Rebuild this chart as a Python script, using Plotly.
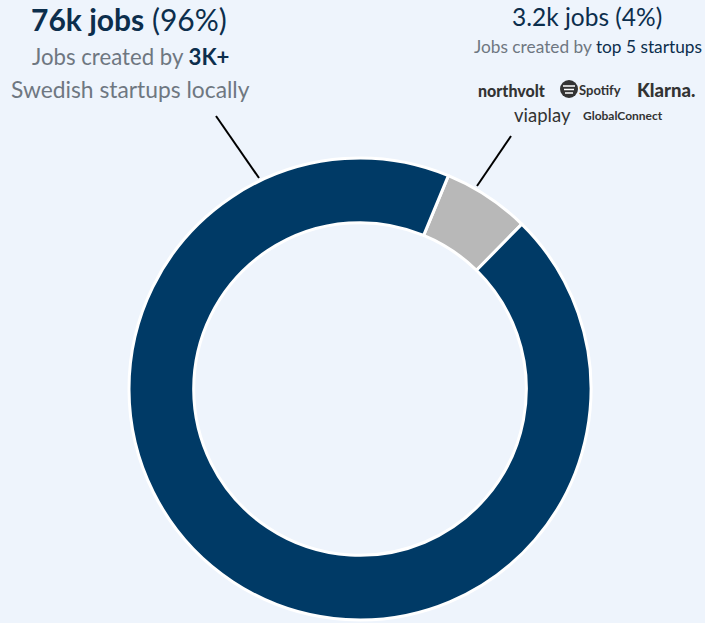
import plotly.graph_objects as go

# Data
labels = ["Top 5 startups", "3K+ Swedish startups"]
values = [6.1, 93.9]
colors = ["#B8B8B8", "#003A66"]

W, H = 705, 623
BG = "#EEF4FC"
NAVY = "#0C2E4C"
GREY = "#6E7781"
LOGO = "#333333"
FONT = "Source Sans Pro, Lato, sans-serif"

cx, cy, r = 360, 389, 231

def px(x):
    return x / W

def py(y):
    return 1 - y / H

fig = go.Figure(go.Pie(
    labels=labels, values=values, sort=False, direction="clockwise", rotation=22.5,
    hole=0.72, marker=dict(colors=colors, line=dict(color="white", width=3)),
    textinfo="none", hoverinfo="label+percent", showlegend=False,
    domain=dict(x=[px(cx - r), px(cx + r)], y=[py(cy + r), py(cy - r)]),
))

ann = []
def add(text, x, y, size, color, weight=None, family=FONT):
    f = dict(size=size, color=color, family=family)
    if weight:
        f["weight"] = weight
    ann.append(dict(text=text, x=px(x), y=py(y), xref="paper", yref="paper",
                    showarrow=False, xanchor="center", yanchor="middle", font=f))

add("<b>76k jobs</b> (96%)", 129, 19, 30, NAVY)
add("Jobs created by <b style='color:%s'>3K+</b>" % NAVY, 130, 57, 22.2, GREY)
add("Swedish startups locally", 130, 89, 22.8, GREY)
add("3.2k jobs (4%)", 587, 16, 24.5, NAVY)
add("Jobs created by <span style='color:%s'>top 5 startups</span>" % NAVY, 588, 47, 17.3, GREY)
add("northvolt", 511, 90, 16, LOGO, weight=900)
add("Spotify", 600, 90, 13, LOGO, weight=700)
add("Klarna.", 666, 90, 18.5, LOGO, weight=900)
add("viaplay", 542, 115, 18.5, LOGO)
add("GlobalConnect", 623, 116, 12, LOGO, weight=700)

shapes = [
    dict(type="line", xref="paper", yref="paper", x0=px(216), y0=py(116), x1=px(259), y1=py(178),
         line=dict(color="black", width=2)),
    dict(type="line", xref="paper", yref="paper", x0=px(511), y0=py(136), x1=px(477), y1=py(186),
         line=dict(color="black", width=2)),
    dict(type="circle", xref="paper", yref="paper", x0=px(560), y0=py(80), x1=px(578), y1=py(98),
         fillcolor=LOGO, line=dict(width=0)),
]
for yy, w in [(86, 6), (89.5, 5), (93, 4)]:
    shapes.append(dict(type="line", xref="paper", yref="paper", x0=px(569 - w), y0=py(yy),
                       x1=px(569 + w), y1=py(yy), line=dict(color="white", width=1.5)))

fig.update_layout(
    width=W, height=H, margin=dict(l=0, r=0, t=0, b=0),
    paper_bgcolor=BG, plot_bgcolor=BG, annotations=ann, shapes=shapes,
    font=dict(family=FONT),
)
fig.write_html("out.html", config={"displayModeBar": False},
               post_script="document.body.style.margin='0';")
